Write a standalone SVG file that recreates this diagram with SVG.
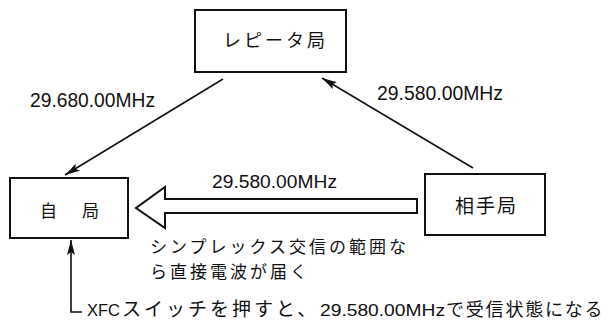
<svg xmlns="http://www.w3.org/2000/svg" width="609" height="322" viewBox="0 0 609 322">
<style>
.box{fill:#fff;stroke:#111;stroke-width:2}
.ln{fill:none;stroke:#111;stroke-width:1.6}
.jp{font-family:"Noto Sans CJK JP","Noto Sans",sans-serif;fill:#111}
.num{font-family:"Liberation Sans",Arial,sans-serif;fill:#111}
</style>
<defs>
<marker id="ah" markerUnits="userSpaceOnUse" markerWidth="16" markerHeight="10" refX="15" refY="4" orient="auto">
<path d="M0,0 L15,4 L0,8 L3,4 z" fill="#111"/>
</marker>
</defs>
<rect width="609" height="322" fill="#fff"/>
<g id="repeater">
<rect class="box" x="195" y="10" width="151" height="62"/>
<text class="jp" x="223" y="47" font-size="18" letter-spacing="3">レピータ局</text>
</g>
<g id="self">
<rect class="box" x="10" y="178" width="118" height="60"/>
<text class="jp" x="40" y="217" font-size="17">自</text>
<text class="jp" x="82" y="217" font-size="17">局</text>
</g>
<g id="partner">
<rect class="box" x="425" y="174" width="120" height="61"/>
<text class="jp" x="455" y="213" font-size="19" letter-spacing="2">相手局</text>
</g>
<g id="connectors">
<line class="ln" x1="223" y1="79" x2="65" y2="175" marker-end="url(#ah)"/>
<line class="ln" x1="473" y1="168" x2="322" y2="78" marker-end="url(#ah)"/>
<path d="M417,199 L165,199 L165,187 L136,208 L165,228 L165,213 L417,213 Z" fill="#fff" stroke="#111" stroke-width="2" stroke-linejoin="miter"/>
<path class="ln" d="M82,312 L71,312 L71,240" marker-end="url(#ah)"/>
</g>
<g id="labels">
<text class="num" x="30" y="107" font-size="20" textLength="125" lengthAdjust="spacingAndGlyphs">29.680.00MHz</text>
<text class="num" x="377" y="100" font-size="20" textLength="126" lengthAdjust="spacingAndGlyphs">29.580.00MHz</text>
<text class="num" x="212" y="188" font-size="18" textLength="125" lengthAdjust="spacingAndGlyphs">29.580.00MHz</text>
<text class="jp" x="150" y="253" font-size="17" letter-spacing="3">シンプレックス交信の範囲な</text>
<text class="jp" x="150" y="277.5" font-size="17" letter-spacing="3">ら直接電波が届く</text>
<text class="num" x="87" y="316" font-size="17" textLength="33" lengthAdjust="spacingAndGlyphs">XFC</text>
<text class="jp" x="122" y="316" font-size="19" letter-spacing="3">スイッチを押すと、</text>
<text class="num" x="320" y="316" font-size="17" textLength="125" lengthAdjust="spacingAndGlyphs">29.580.00MHz</text>
<text class="jp" x="446" y="316" font-size="18" letter-spacing="1.8">で受信状態になる</text>
</g>
</svg>
